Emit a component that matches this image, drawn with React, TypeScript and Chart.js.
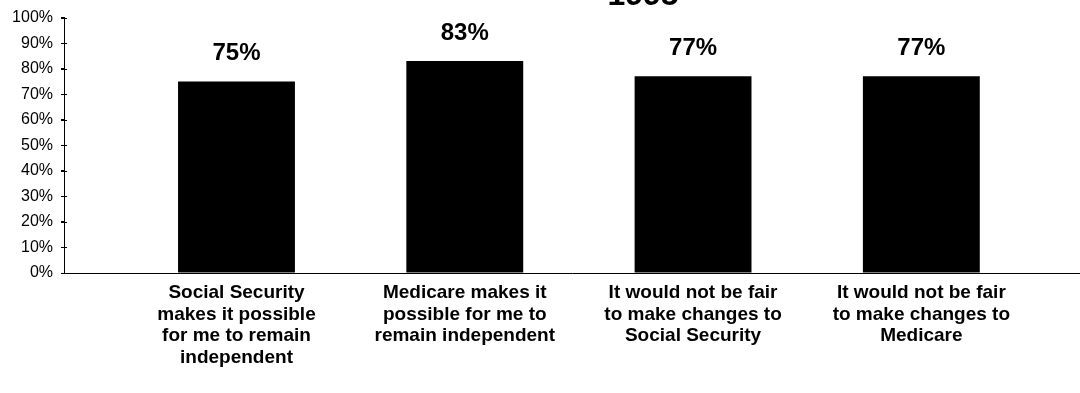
import React, { useEffect, useRef } from "react";
import { Chart, registerables } from "chart.js";

Chart.register(...registerables);

const titleText = "1995";
const categories: string[][] = [
  ["Social Security", "makes it possible", "for me to remain", "independent"],
  ["Medicare makes it", "possible for me to", "remain independent"],
  ["It would not be fair", "to make changes to", "Social Security"],
  ["It would not be fair", "to make changes to", "Medicare"],
];
const values = [75, 83, 77, 77];
const yTicks = [0, 10, 20, 30, 40, 50, 60, 70, 80, 90, 100];

const FONT = "'Liberation Sans', Arial, sans-serif";

const extrasPlugin = {
  id: "extras",
  afterDatasetsDraw(chart: any) {
    const ctx = chart.ctx;
    const meta = chart.getDatasetMeta(0);
    ctx.save();
    ctx.fillStyle = "#000";
    ctx.font = `bold 24px ${FONT}`;
    ctx.textAlign = "center";
    ctx.textBaseline = "alphabetic";
    meta.data.forEach((bar: any, i: number) => {
      ctx.fillText(values[i] + "%", bar.x, bar.y - 21);
    });
    // title (cut off at top)
    ctx.font = `bold 32px ${FONT}`;
    ctx.fillText(titleText, chart.chartArea.left + 579, 5);
    // y tick marks crossing the axis
    const ys = chart.scales.y;
    const x0 = chart.chartArea.left;
    ctx.strokeStyle = "#000";
    ctx.lineWidth = 1;
    yTicks.forEach((v) => {
      const py = Math.round(ys.getPixelForValue(v)) + 0.5;
      ctx.beginPath();
      ctx.moveTo(x0 - 3, py);
      ctx.lineTo(x0 + 3, py);
      ctx.stroke();
    });
    ctx.restore();
  },
};

export default function App() {
  const ref = useRef<HTMLCanvasElement>(null);
  useEffect(() => {
    if (!ref.current) return;
    const data = values.map((v, i) => ({ x: i + 1, y: v }));
    const chart = new Chart(ref.current, {
      type: "bar",
      data: {
        datasets: [
          {
            data: data as any,
            backgroundColor: "#000",
            borderWidth: 0,
            barPercentage: 0.512,
            categoryPercentage: 1,
          },
        ],
      },
      options: {
        animation: false,
        responsive: false,
        maintainAspectRatio: false,
        layout: { padding: { top: 13, left: 0, right: 0, bottom: 0 } },
        plugins: {
          legend: { display: false },
          tooltip: { enabled: false },
          title: { display: false },
        },
        scales: {
          x: {
            type: "linear",
            offset: false,
            min: 0.2444,
            max: 4.695,
            afterBuildTicks: (s: any) => {
              s.ticks = categories.map((_, i) => ({ value: i + 1 }));
            },
            afterFit: (s: any) => {
              s.height = 120;
            },
            ticks: {
              autoSkip: false,
              maxRotation: 0,
              minRotation: 0,
              padding: 9,
              color: "#000",
              font: { family: FONT, size: 19, weight: "bold", lineHeight: 1.14 },
              callback: (v: any) => categories[Number(v) - 1] ?? "",
            },
            grid: { display: false, drawTicks: false, offset: false },
            border: { display: true, color: "#000", width: 1 },
          },
          y: {
            min: 0,
            max: 100,
            afterBuildTicks: (s: any) => {
              s.ticks = yTicks.map((v) => ({ value: v }));
            },
            afterFit: (s: any) => {
              s.width = 64;
            },
            ticks: {
              padding: 8,
              color: "#000",
              font: { family: FONT, size: 16 },
              callback: (v: any) => v + "%",
            },
            grid: { drawOnChartArea: false, drawTicks: true, tickLength: 3, color: "#000" },
            border: { display: true, color: "#000", width: 1 },
          },
        },
      },
      plugins: [extrasPlugin],
    });
    return () => chart.destroy();
  }, []);
  return (
    <div style={{ position: "fixed", left: 0, top: 0, width: 1080, height: 393, background: "#fff" }}>
      <canvas ref={ref} width={1080} height={393} style={{ width: 1080, height: 393 }} />
    </div>
  );
}
